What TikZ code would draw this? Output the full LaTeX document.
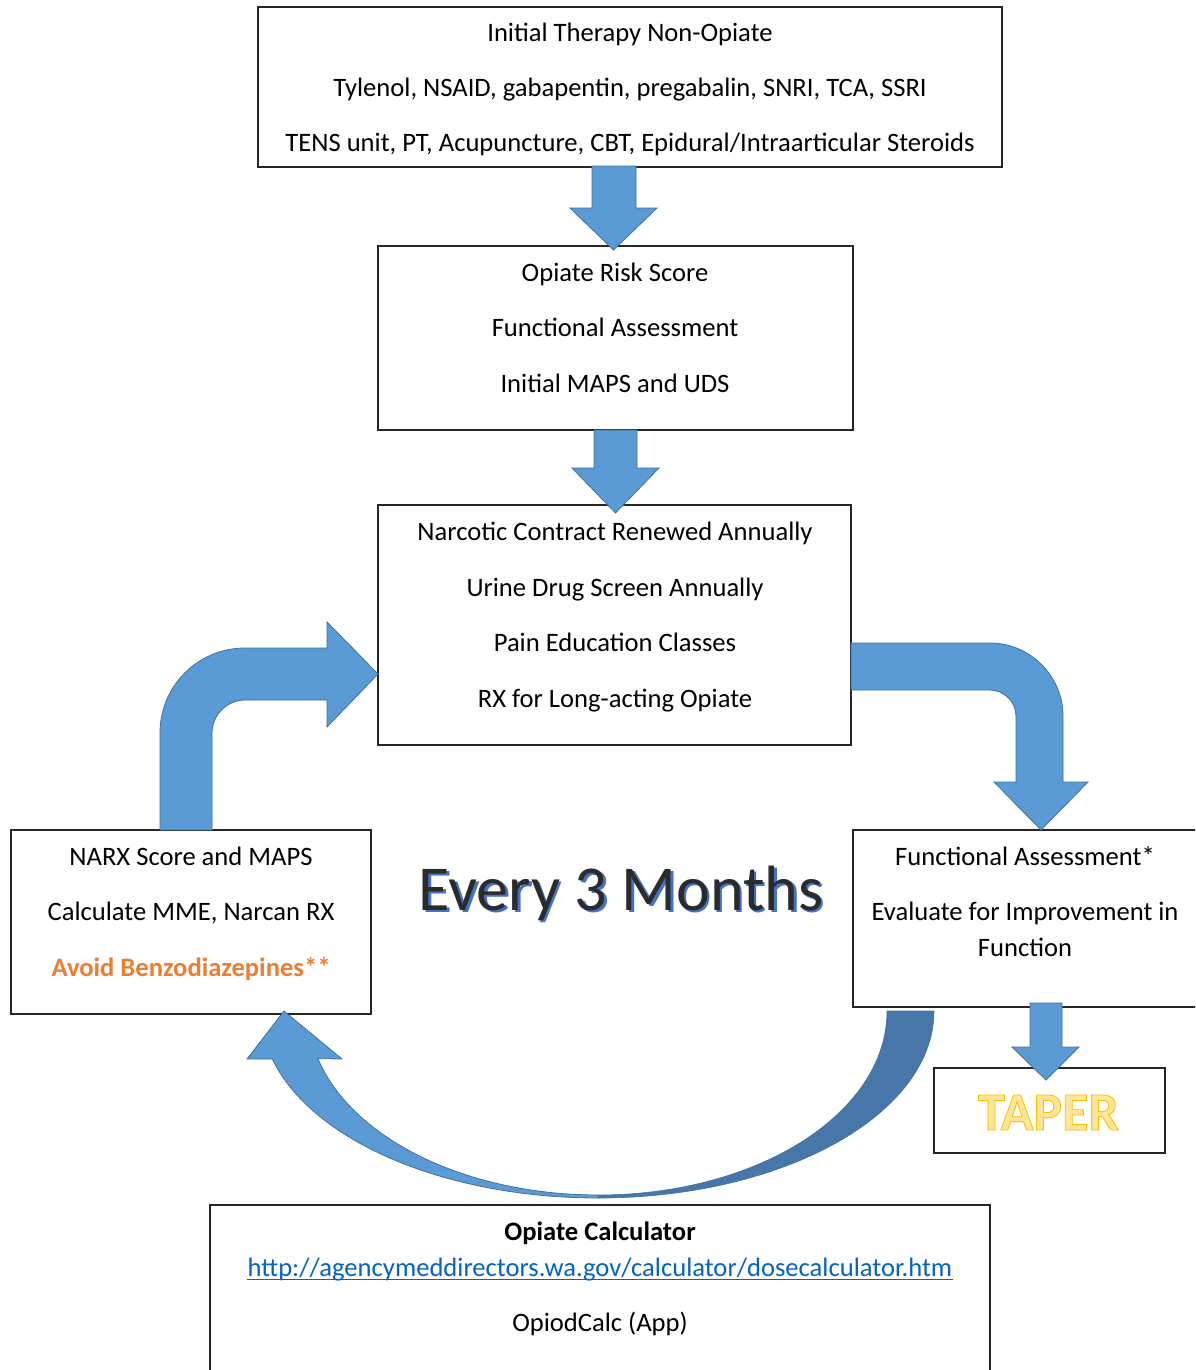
\documentclass[tikz,border=0pt]{standalone}
\usepackage{fontspec}
\setmainfont{Carlito}
\usetikzlibrary{calc}
\definecolor{afill}{HTML}{5B9BD5}
\definecolor{aline}{HTML}{41719C}
\definecolor{adark}{HTML}{4677A8}
\definecolor{orng}{HTML}{ED7D31}
\definecolor{lnk}{HTML}{0563C1}
\definecolor{gold}{HTML}{FFC000}
\definecolor{lgold}{HTML}{FFE699}
\definecolor{dgray}{HTML}{2B2B2B}
\definecolor{shblue}{HTML}{4472C4}
\tikzset{
  box/.style={draw=black!85, line width=1.1pt, inner sep=0pt, outer sep=0pt},
  txt/.style={font=\fontsize{26.6}{30}\selectfont, anchor=base, inner sep=0pt},
  blockarrow/.style={fill=afill, draw=aline, line width=0.8pt, line join=miter},
}
\begin{document}
\begin{tikzpicture}[x=1pt,y=-1pt]
\useasboundingbox (0,0) rectangle (1195,1370);
\clip (0,0) rectangle (1195,1370);
\fill[white] (0,0) rectangle (1195,1370);

% boxes
\node[box, minimum width=744pt, minimum height=160pt] (b1) at (630,87) {};
\node[box, minimum width=475pt, minimum height=184pt] (b2) at (615.5,338) {};
\node[box, minimum width=473pt, minimum height=240pt] (b3) at (614.5,625) {};
\node[box, minimum width=360pt, minimum height=184pt] (bl) at (191,922) {};
\node[box, minimum width=362pt, minimum height=177pt] (br) at (1034,918.5) {};
\node[box, minimum width=231pt, minimum height=85pt] (bt) at (1049.5,1110.5) {};
\node[box, minimum width=780pt, minimum height=185pt] (bb) at (600,1297.5) {};

% texts box 1
\node[txt] (t11) at (630,42) {Initial Therapy Non-Opiate};
\node[txt] (t12) at (630,97) {Tylenol, NSAID, gabapentin, pregabalin, SNRI, TCA, SSRI};
\node[txt] (t13) at (630,151) {TENS unit, PT, Acupuncture, CBT, Epidural/Intraarticular Steroids};
% box 2
\node[txt] (t21) at (615,281) {Opiate Risk Score};
\node[txt] (t22) at (615,336) {Functional Assessment};
\node[txt] (t23) at (615,392) {Initial MAPS and UDS};
% box 3
\node[txt] (t31) at (615,540) {Narcotic Contract Renewed Annually};
\node[txt] (t32) at (615,596) {Urine Drug Screen Annually};
\node[txt] (t33) at (615,651) {Pain Education Classes};
\node[txt] (t34) at (615,707) {RX for Long-acting Opiate};
% left box
\node[txt] (tl1) at (191,865) {NARX Score and MAPS};
\node[txt] (tl2) at (191,920) {Calculate MME, Narcan RX};
\node[txt, text=orng, font=\fontsize{26.6}{30}\selectfont\bfseries] (tl3) at (191,976) {Avoid Benzodiazepines**};
% right box
\node[txt] (tr1) at (1025,865) {Functional Assessment*};
\node[txt] (tr2) at (1025,920) {Evaluate for Improvement in};
\node[txt] (tr3) at (1025,956) {Function};
% bottom box
\node[txt, font=\fontsize{26.6}{30}\selectfont\bfseries] (tb1) at (600,1240) {Opiate Calculator};
\node[txt, text=lnk] (tb2) at (600,1276) {http://agencymeddirectors.wa.gov/calculator/dosecalculator.htm};
\draw[lnk, line width=1.2pt] ([yshift=-3.5pt]tb2.base west) -- ([yshift=-3.5pt]tb2.base east);
\node[txt] (tb3) at (600,1331) {OpiodCalc (App)};

% Every 3 Months
\node[anchor=base, inner sep=0pt, text=shblue, font=\fontsize{64}{70}\selectfont] (e3s) at (623.5,912.5) {Every 3 Months};
\node[anchor=base, inner sep=0pt, text=dgray, font=\fontsize{64}{70}\selectfont] (e3) at (621,910) {Every 3 Months};

% TAPER: light fill with gold stroke
\node[anchor=base, inner sep=0pt, text=lgold,
  font=\fontsize{54}{60}\selectfont\bfseries\addfontfeature{FakeBold=1.6}] (tap) at (1048.5,1130)
  {\special{pdf:literal direct 1 0.753 0 RG}TAPER};

% straight block arrows
\draw[blockarrow] (592,166) -- (592,208) -- (570,208) -- (613.5,250) -- (657,208) -- (636,208) -- (636,166) -- cycle;
\draw[blockarrow] (594,430) -- (594,468) -- (572,468) -- (615.5,513) -- (659,468) -- (637,468) -- (637,430) -- cycle;
\draw[blockarrow] (1030,1003) -- (1030,1047) -- (1012,1047) -- (1046,1080) -- (1079,1047) -- (1062,1047) -- (1062,1003) -- cycle;

% bent arrow left (up then right)
\draw[blockarrow] (160,830) -- (160,733) .. controls (160,686) and (198,648) .. (245,648)
  -- (327,648) -- (327,622) -- (378,674) -- (327,727) -- (327,700) -- (245,700)
  .. controls (227,700) and (212,715) .. (212,733) -- (212,830) -- cycle;

% bent arrow right (right then down)
\draw[blockarrow] (851,643) -- (990,643) .. controls (1030,643) and (1063,676) .. (1063,716)
  -- (1063,782) -- (1088,782) -- (1041,830) -- (994,782) -- (1016,782) -- (1016,716)
  .. controls (1016,702) and (1004,690) .. (990,690) -- (851,690) -- cycle;

% curved return arrow: right dark part
\draw[fill=adark, draw=aline, line width=0.6pt] (934,1011) .. controls (934,1114) and (784,1198) .. (598,1198)
  -- (598,1195) .. controls (758,1195) and (887,1113) .. (887,1011) -- cycle;
% left light part with head
\draw[blockarrow] (272,1059)
  -- plot[domain=15:90, samples=40] ({598-337*cos(\x)}, {1011+187*sin(\x)})
  -- plot[domain=90:15, samples=40] ({598-290*cos(\x)}, {1011+184*sin(\x)})
  -- (342,1059) -- (284,1011) -- (247,1059) -- cycle;
\end{tikzpicture}
\end{document}
